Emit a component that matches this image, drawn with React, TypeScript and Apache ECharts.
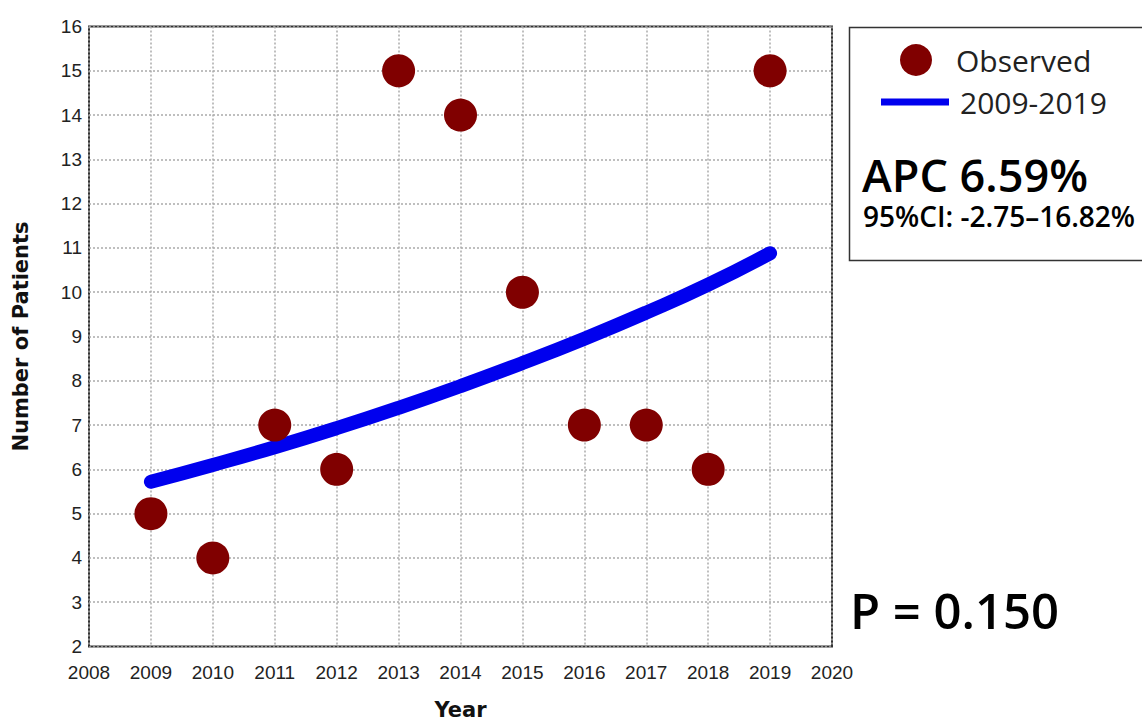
import React, { useEffect, useRef } from "react";
import * as echarts from "echarts";

const years = [2009, 2010, 2011, 2012, 2013, 2014, 2015, 2016, 2017, 2018, 2019];
const observed = [5, 4, 7, 6, 15, 14, 10, 7, 7, 6, 15];
const fitted = [5.72, 6.1, 6.5, 6.93, 7.39, 7.88, 8.4, 8.95, 9.54, 10.17, 10.88];
const observedName = "Observed";
const fittedName = "2009-2019";
const apcText = "APC 6.59%";
const ciText = "95%CI: -2.75–16.82%";
const pText = "P = 0.150";

export default function App() {
  const ref = useRef<HTMLDivElement>(null);
  useEffect(() => {
    if (!ref.current) return;
    const chart = echarts.init(ref.current, null, { renderer: "svg" });
    const axisFont = "Liberation Sans";
    const titleFont = "DejaVu Sans";
    const boxFont = "Open Sans";
    chart.setOption({
      animation: false,
      backgroundColor: "#ffffff",
      grid: {
        left: 89,
        top: 26.5,
        right: 310,
        bottom: 76.5,
        show: true,
        borderColor: "#333333",
        borderWidth: 2,
        backgroundColor: "transparent",
        outerBoundsMode: "none",
        containLabel: false,
      },
      xAxis: {
        type: "value",
        min: 2008,
        max: 2020,
        interval: 1,
        name: "Year",
        nameLocation: "middle",
        nameGap: 53,
        nameTextStyle: { fontFamily: titleFont, fontWeight: "bold", fontSize: 21, color: "#111" },
        axisLine: { show: false },
        axisTick: { show: false },
        axisLabel: {
          fontFamily: axisFont,
          fontSize: 19,
          color: "#222",
          margin: 16,
          formatter: (v: number) => String(v),
        },
        splitLine: { show: true, lineStyle: { color: "#aaaaaa", type: [2, 2], width: 1.5 } },
      },
      yAxis: {
        type: "value",
        min: 2,
        max: 16,
        interval: 1,
        name: "Number of Patients",
        nameLocation: "middle",
        nameGap: 58,
        nameRotate: 90,
        nameTextStyle: { fontFamily: titleFont, fontWeight: "bold", fontSize: 21, color: "#111" },
        axisLine: { show: false },
        axisTick: { show: false },
        axisLabel: { fontFamily: axisFont, fontSize: 19, color: "#222", margin: 7 },
        splitLine: { show: true, lineStyle: { color: "#aaaaaa", type: [2, 2], width: 1.5 } },
      },
      legend: [
        {
          data: [observedName],
          orient: "vertical",
          left: 895,
          top: 39,
          icon: "circle",
          itemWidth: 32,
          itemHeight: 32,
          textStyle: { fontFamily: boxFont, fontSize: 30, color: "#222", padding: [0, 0, 0, 19] },
        },
        {
          data: [fittedName],
          orient: "vertical",
          left: 876,
          top: 82,
          icon: "rect",
          itemWidth: 68,
          itemHeight: 7,
          textStyle: { fontFamily: boxFont, fontSize: 30, color: "#222", padding: [0, 0, 0, 6] },
        },
      ],
      graphic: [
        {
          type: "rect",
          left: 847,
          top: 25,
          shape: { width: 300, height: 233 },
          style: { fill: "none", stroke: "#333", lineWidth: 1.5 },
          z: 0,
        },
        {
          type: "text",
          x: 862,
          y: 174,
          style: {
            text: apcText,
            font: "600 45px 'Open Sans'",
            lineHeight: 36,
            verticalAlign: "middle",
            fill: "#000",
          },
        },
        {
          type: "text",
          x: 863,
          y: 216,
          style: {
            text: ciText,
            font: "600 28px 'Open Sans'",
            lineHeight: 24,
            verticalAlign: "middle",
            fill: "#000",
          },
        },
        {
          type: "text",
          x: 850,
          y: 610,
          style: {
            text: pText,
            font: "600 49px 'Open Sans'",
            verticalAlign: "middle",
            fill: "#000",
          },
        },
      ],
      series: [
        {
          name: fittedName,
          type: "line",
          data: years.map((y, i) => [y, fitted[i]]),
          smooth: true,
          showSymbol: false,
          symbol: "none",
          itemStyle: { color: "#0000ee" },
          lineStyle: { color: "#0000ee", width: 14, cap: "round" },
          z: 2,
        },
        {
          name: observedName,
          type: "scatter",
          data: years.map((y, i) => [y, observed[i]]),
          symbolSize: 33,
          itemStyle: { color: "#800000", opacity: 1 },
          z: 3,
        },
      ],
    });
    return () => chart.dispose();
  }, []);
  return <div ref={ref} style={{ width: 1142, height: 723, position: "absolute", left: 0, top: 0 }} />;
}
